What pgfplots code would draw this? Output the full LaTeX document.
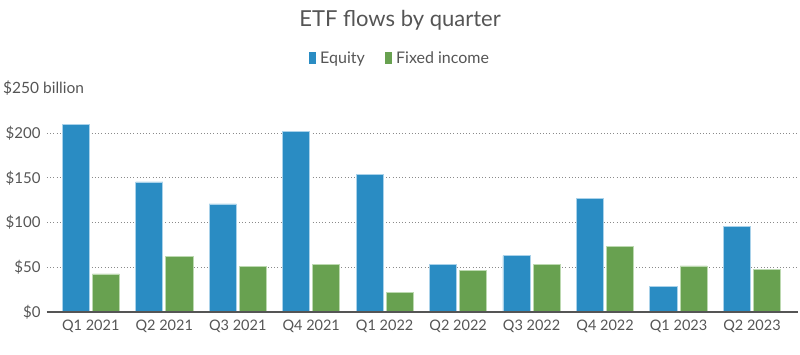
\documentclass[border=0pt]{standalone}
\usepackage{pgfplots}
\pgfplotsset{compat=1.18}
\usepackage{fontspec}
\setmainfont{Lato}
\definecolor{eq}{HTML}{2A8CC3}
\definecolor{eqedge}{HTML}{A9D2EA}
\definecolor{fi}{HTML}{68A150}
\definecolor{fiedge}{HTML}{BCD9B0}
\definecolor{txt}{HTML}{555555}
\definecolor{gridc}{HTML}{8A8A8A}
\begin{document}
\begin{tikzpicture}
\path[use as bounding box] (-47pt,-43pt) rectangle (753pt,312pt);
\begin{axis}[
  at={(0pt,0pt)}, anchor=south west,
  scale only axis,
  width=751pt, height=223.75pt,
  xmin=-0.596, xmax=9.626,
  ymin=0, ymax=250,
  axis x line*=bottom,
  axis y line*=left,
  y axis line style={draw=none},
  x axis line style={color=txt, line width=1.3pt, -},
  xtick={0,...,9},
  xticklabels={Q1 2021,Q2 2021,Q3 2021,Q4 2021,Q1 2022,Q2 2022,Q3 2022,Q4 2022,Q1 2023,Q2 2023},
  major tick length=0pt,
  xticklabel style={font=\fontsize{14.5}{16}\selectfont, text=txt, yshift=-4pt},
  ytick={0,50,100,150,200},
  yticklabels={\$0,\$50,\$100,\$150,\$200},
  yticklabel style={font=\fontsize{15}{16}\selectfont, text=txt, xshift=-3pt},
  ymajorgrids,
  grid style={gridc, line width=0.8pt, dash pattern=on 1pt off 2.2pt},
  ybar, bar width=0.37,
  legend style={at={(0.470,1.135)}, anchor=center, draw=none, fill=none,
    font=\fontsize{16}{18}\selectfont, text=txt,
    legend columns=2,
    /tikz/every even column/.append style={column sep=18pt}},
  clip=false,
]
\addplot[fill=eq, draw=eqedge, line width=0.8pt, bar shift=-0.205, legend image code/.code={\fill[eq] (0pt,-5pt) rectangle (6.5pt,6pt);}]
  coordinates {(0,210) (1,145.3) (2,120.7) (3,202.2) (4,153.4) (5,52.9) (6,62.9) (7,127) (8,28.3) (9,95.8)};
\addlegendentry{\hspace{2pt}Equity}
\addplot[fill=fi, draw=fiedge, line width=0.8pt, bar shift=0.205, legend image code/.code={\fill[fi] (0pt,-5pt) rectangle (6.5pt,6pt);}]
  coordinates {(0,42.5) (1,61.8) (2,51) (3,53.6) (4,22) (5,46.9) (6,53.2) (7,73) (8,51.4) (9,47.3)};
\addlegendentry{\hspace{2pt}Fixed income}
\end{axis}
\draw[txt, line width=1.3pt] (0pt,0pt) -- (751pt,0pt);
\node[anchor=center, text=txt, font=\fontsize{22}{25}\selectfont] at (353pt,292pt) {ETF flows by quarter};
\node[anchor=west, text=txt, font=\fontsize{15.5}{17}\selectfont, inner sep=0pt] at (-44pt,224pt) {\$250 billion};
\end{tikzpicture}
\end{document}
